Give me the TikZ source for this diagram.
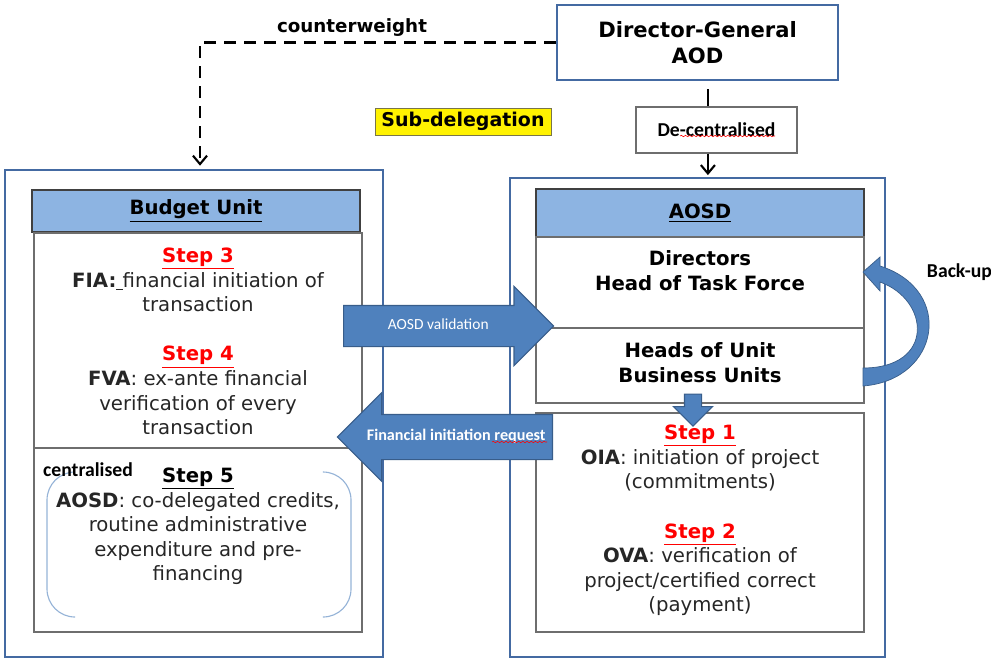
\documentclass[tikz,border=0pt]{standalone}
\usepackage{fontspec}
\setmainfont{DejaVu Sans}
\newfontfamily\calfont{Carlito}
\usetikzlibrary{arrows.meta,shapes.arrows,decorations.pathmorphing}
\definecolor{boxblue}{RGB}{68,106,162}
\definecolor{headblue}{RGB}{141,180,226}
\definecolor{arrowfill}{RGB}{79,129,189}
\definecolor{arrowline}{RGB}{56,93,138}
\definecolor{bracketblue}{RGB}{149,179,215}
\definecolor{boxgray}{RGB}{110,110,110}
\newcommand{\steplabel}[2][red]{\textcolor{#1}{\textbf{\underline{#2}}}}
\begin{document}
\begin{tikzpicture}[x=0.025cm,y=-0.025cm,
    outerbox/.style={draw=boxblue,line width=2pt,inner sep=0pt},
    headbox/.style={draw=black!75,line width=1pt,fill=headblue,minimum width=8.2cm,
      font=\bfseries\fontsize{14}{17.5}\selectfont},
    cellbox/.style={draw=boxgray,line width=0.8pt,minimum width=8.2cm,inner sep=0pt},
    celltext/.style={align=center,text=black!85,font=\fontsize{14}{17.5}\selectfont},
    boldtext/.style={align=center,font=\bfseries\fontsize{14}{17.5}\selectfont},
    calbold/.style={font=\calfont\bfseries\fontsize{14}{16}\selectfont},
    blockarrow/.style={single arrow,fill=arrowfill,draw=arrowline,line width=0.8pt,
      text=white,inner xsep=0.1cm,text height=0.25cm,text depth=0.07cm},
    conn/.style={line width=1.5pt},
    tip/.style={-{Straight Barb[length=6pt,width=10pt,line width=1.5pt]}},
    cwline/.style={line width=1.5pt,dash pattern=on 8.5pt off 5.7pt,tip},
    spell/.style={red,line width=0.4pt,decorate,
      decoration={snake,amplitude=0.5pt,segment length=3pt}}
  ]
  \useasboundingbox (0,0) rectangle (991,659);

  % top of the chart
  \node[draw=boxblue,line width=1.8pt,minimum width=7.025cm,minimum height=1.875cm,
    align=center,font=\bfseries\fontsize{15}{19}\selectfont] (dg) at (697.5,42.5)
    {Director-General\\AOD};
  \node[font=\bfseries\fontsize{13}{15}\selectfont] (cw) at (352,28) {counterweight};
  \node[fill=yellow,draw=yellow!40!black,line width=0.6pt,minimum width=4.4cm,
    minimum height=0.675cm,inner sep=0pt,font=\bfseries\fontsize{13.5}{16}\selectfont]
    (subdel) at (463,121.5) {Sub-delegation};
  \node[draw=boxgray,line width=0.8pt,minimum width=4.025cm,minimum height=1.15cm,calbold]
    (dec) at (716.5,130) {De-centralised};
  \draw[spell] (680,136) -- (775,136);

  % budget unit
  \node[outerbox,minimum width=9.45cm,minimum height=12.175cm] (bu) at (194,413.5) {};
  \node[headbox,minimum height=1.05cm] (buhead) at (196,211) {\underline{Budget Unit}};
  \node[cellbox,minimum height=5.375cm] (fiabox) at (198,340.5) {};
  \node[cellbox,minimum height=4.6cm] (cenbox) at (198,540) {};
  \node[celltext] (s34) at (198,341.5)
    {\steplabel{Step 3}\\
     \textbf{FIA:}\underline{\ }financial initiation of\\
     transaction\\[17.5pt]
     \steplabel{Step 4}\\
     \textbf{FVA}: ex-ante financial\\
     verification of every\\
     transaction};
  \draw[bracketblue,line width=0.8pt,rounded corners=0.7cm]
    (75,472) -- (47,472) -- (47,617) -- (75,617);
  \draw[bracketblue,line width=0.8pt,rounded corners=0.7cm]
    (323,472) -- (351,472) -- (351,617) -- (323,617);
  \node[celltext] (s5) at (198,526.5)
    {\steplabel[black]{Step 5}\\
     \textbf{AOSD}: co-delegated credits,\\
     routine administrative\\
     expenditure and pre-\\
     financing};
  \node[calbold] (cen) at (88,470) {centralised};

  % AOSD
  \node[outerbox,minimum width=9.375cm,minimum height=11.975cm] (ao) at (697.5,417.5) {};
  \node[headbox,minimum height=1.2cm] (aohead) at (700,213) {\underline{AOSD}};
  \node[cellbox,minimum height=2.275cm] (dir) at (700,282.5) {};
  \node[cellbox,minimum height=1.875cm] (hou) at (700,365.5) {};
  \node[cellbox,minimum height=5.475cm] (stp) at (700,522.5) {};
  \node[boldtext] (dirtext) at (700,270.5) {Directors\\Head of Task Force};
  \node[boldtext] (houtext) at (700,362.5) {Heads of Unit\\Business Units};
  \node[celltext] (s12) at (700,520.5)
    {\steplabel{Step 1}\\
     \textbf{OIA}: initiation of project\\
     (commitments)\\[17.5pt]
     \steplabel{Step 2}\\
     \textbf{OVA}: verification of\\
     project/certified correct\\
     (payment)};

  % connectors
  \coordinate (dtop) at ([xshift=0.26cm]dg.south);
  \draw[conn,shorten <=0.2cm] (dtop) -- (dtop |- dec.north);
  \draw[conn,tip,shorten >=1pt] (dtop |- dec.south) -- (dtop |- ao.north);
  \draw[cwline,shorten >=2pt] (dg.west) -| ([xshift=0.15cm]bu.north);

  \node[blockarrow,font=\calfont\fontsize{11}{13}\selectfont,minimum height=5.25cm,
    single arrow head extend=0.475cm,inner ysep=0.34cm,anchor=tail]
    (valarrow) at (343,326) {AOSD validation};
  \node[blockarrow,shape border rotate=180,font=\calfont\bfseries\fontsize{11.5}{13}\selectfont,
    minimum height=5.375cm,single arrow head extend=0.54cm,inner ysep=0.39cm,anchor=tail]
    (finarrow) at (553,437) {Financial initiation request};
  \draw[spell] (492,442) -- (547,442);
  \node[blockarrow,rotate=-90,minimum height=0.8cm,single arrow head extend=0.275cm,
    inner xsep=0pt,inner ysep=0.2cm,text height=0pt,text depth=0pt,anchor=tail]
    (downarrow) at ([xshift=-0.175cm,yshift=0.25cm]hou.south) {};

  % back-up loop
  \filldraw[fill=arrowfill,draw=arrowline,line width=0.5pt]
    (863,386) .. controls (940,380) and (955,290) .. (880,266) -- (880,257) -- (863,272)
    -- (880,291) -- (880,282) .. controls (930,300) and (935,368) .. (863,368) -- cycle;
  \node[calbold,anchor=west] (backup) at (922,272) {Back-up};
\end{tikzpicture}
\end{document}
